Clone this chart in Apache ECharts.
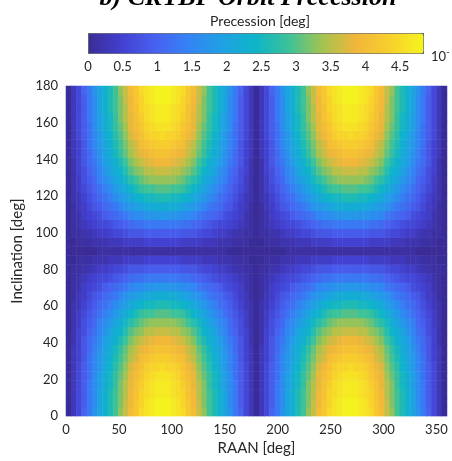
<!DOCTYPE html>
<html>
<head>
<meta charset="utf-8">
<script src="https://cdn.jsdelivr.net/npm/echarts@6/dist/echarts.min.js"></script>
<style>
html,body{margin:0;padding:0;background:#fff;}
#main{width:452px;height:461px;}
</style>
</head>
<body>
<div id="main"></div>
<script>
// RAAN (x) and inclination (y) sample points, deg
var raanDeg = [0,5,10,15,20,25,30,35,40,45,50,55,60,65,70,75,80,85,90,95,100,105,110,115,120,125,130,135,140,145,150,155,160,165,170,175,180,
  185,190,195,200,205,210,215,220,225,230,235,240,245,250,255,260,265,270,275,280,285,290,295,300,305,310,315,320,325,330,335,340,345,350,355,360];
var incDeg = [0,5,10,15,20,25,30,35,40,45,50,55,60,65,70,75,80,85,90,95,100,105,110,115,120,125,130,135,140,145,150,155,160,165,170,175,180];

// precession (x 10^-?), one row per inclination, one column per RAAN
var precession = [
  /*0*/  [0,0.3,0.6,1,1.3,1.7,2,2.3,2.6,2.9,3.3,3.6,4,4.2,4.5,4.6,4.7,4.8,4.8,4.8,4.7,4.6,4.5,4.2,4,3.6,3.3,2.9,2.6,2.3,2,1.7,1.3,1,0.6,0.3,0,0.3,0.6,1,1.3,1.7,2,2.3,2.6,2.9,3.3,3.6,4,4.2,4.5,4.6,4.7,4.8,4.8,4.8,4.7,4.6,4.5,4.2,4,3.6,3.3,2.9,2.6,2.3,2,1.7,1.3,1,0.6,0.3,0],
  /*5*/  [0,0.3,0.6,0.9,1.3,1.6,2,2.3,2.6,2.9,3.2,3.6,3.9,4.2,4.4,4.6,4.7,4.8,4.8,4.8,4.7,4.6,4.4,4.2,3.9,3.6,3.2,2.9,2.6,2.3,2,1.6,1.3,0.9,0.6,0.3,0,0.3,0.6,0.9,1.3,1.6,2,2.3,2.6,2.9,3.2,3.6,3.9,4.2,4.4,4.6,4.7,4.8,4.8,4.8,4.7,4.6,4.4,4.2,3.9,3.6,3.2,2.9,2.6,2.3,2,1.6,1.3,0.9,0.6,0.3,0],
  /*10*/ [0,0.3,0.6,0.9,1.3,1.6,2,2.3,2.6,2.9,3.2,3.5,3.9,4.1,4.4,4.5,4.6,4.7,4.7,4.7,4.6,4.5,4.4,4.1,3.9,3.5,3.2,2.9,2.6,2.3,2,1.6,1.3,0.9,0.6,0.3,0,0.3,0.6,0.9,1.3,1.6,2,2.3,2.6,2.9,3.2,3.5,3.9,4.1,4.4,4.5,4.6,4.7,4.7,4.7,4.6,4.5,4.4,4.1,3.9,3.5,3.2,2.9,2.6,2.3,2,1.6,1.3,0.9,0.6,0.3,0],
  /*15*/ [0,0.3,0.6,0.9,1.3,1.6,1.9,2.2,2.5,2.8,3.2,3.5,3.8,4.1,4.3,4.5,4.6,4.7,4.7,4.7,4.6,4.5,4.3,4.1,3.8,3.5,3.2,2.8,2.5,2.2,1.9,1.6,1.3,0.9,0.6,0.3,0,0.3,0.6,0.9,1.3,1.6,1.9,2.2,2.5,2.8,3.2,3.5,3.8,4.1,4.3,4.5,4.6,4.7,4.7,4.7,4.6,4.5,4.3,4.1,3.8,3.5,3.2,2.8,2.5,2.2,1.9,1.6,1.3,0.9,0.6,0.3,0],
  /*20*/ [0,0.3,0.6,0.9,1.2,1.6,1.9,2.2,2.5,2.8,3.1,3.4,3.8,4,4.2,4.4,4.5,4.6,4.6,4.6,4.5,4.4,4.2,4,3.8,3.4,3.1,2.8,2.5,2.2,1.9,1.6,1.2,0.9,0.6,0.3,0,0.3,0.6,0.9,1.2,1.6,1.9,2.2,2.5,2.8,3.1,3.4,3.8,4,4.2,4.4,4.5,4.6,4.6,4.6,4.5,4.4,4.2,4,3.8,3.4,3.1,2.8,2.5,2.2,1.9,1.6,1.2,0.9,0.6,0.3,0],
  /*25*/ [0,0.3,0.6,0.9,1.2,1.5,1.8,2.1,2.4,2.7,3,3.3,3.7,3.9,4.1,4.3,4.4,4.4,4.5,4.4,4.4,4.3,4.1,3.9,3.7,3.3,3,2.7,2.4,2.1,1.8,1.5,1.2,0.9,0.6,0.3,0,0.3,0.6,0.9,1.2,1.5,1.8,2.1,2.4,2.7,3,3.3,3.7,3.9,4.1,4.3,4.4,4.4,4.5,4.4,4.4,4.3,4.1,3.9,3.7,3.3,3,2.7,2.4,2.1,1.8,1.5,1.2,0.9,0.6,0.3,0],
  /*30*/ [0,0.3,0.5,0.8,1.2,1.5,1.8,2,2.3,2.6,2.9,3.2,3.5,3.7,4,4.1,4.2,4.3,4.3,4.3,4.2,4.1,4,3.7,3.5,3.2,2.9,2.6,2.3,2,1.8,1.5,1.2,0.8,0.5,0.3,0,0.3,0.5,0.8,1.2,1.5,1.8,2,2.3,2.6,2.9,3.2,3.5,3.7,4,4.1,4.2,4.3,4.3,4.3,4.2,4.1,4,3.7,3.5,3.2,2.9,2.6,2.3,2,1.8,1.5,1.2,0.8,0.5,0.3,0],
  /*35*/ [0,0.3,0.5,0.8,1.1,1.4,1.7,2,2.2,2.5,2.8,3.1,3.4,3.6,3.8,3.9,4,4.1,4.1,4.1,4,3.9,3.8,3.6,3.4,3.1,2.8,2.5,2.2,2,1.7,1.4,1.1,0.8,0.5,0.3,0,0.3,0.5,0.8,1.1,1.4,1.7,2,2.2,2.5,2.8,3.1,3.4,3.6,3.8,3.9,4,4.1,4.1,4.1,4,3.9,3.8,3.6,3.4,3.1,2.8,2.5,2.2,2,1.7,1.4,1.1,0.8,0.5,0.3,0],
  /*40*/ [0,0.2,0.5,0.8,1.1,1.3,1.6,1.9,2.1,2.3,2.6,2.9,3.2,3.4,3.6,3.7,3.8,3.9,3.9,3.9,3.8,3.7,3.6,3.4,3.2,2.9,2.6,2.3,2.1,1.9,1.6,1.3,1.1,0.8,0.5,0.2,0,0.2,0.5,0.8,1.1,1.3,1.6,1.9,2.1,2.3,2.6,2.9,3.2,3.4,3.6,3.7,3.8,3.9,3.9,3.9,3.8,3.7,3.6,3.4,3.2,2.9,2.6,2.3,2.1,1.9,1.6,1.3,1.1,0.8,0.5,0.2,0],
  /*45*/ [0,0.2,0.5,0.7,1,1.2,1.5,1.7,2,2.2,2.4,2.7,3,3.2,3.3,3.5,3.5,3.6,3.6,3.6,3.5,3.5,3.3,3.2,3,2.7,2.4,2.2,2,1.7,1.5,1.2,1,0.7,0.5,0.2,0,0.2,0.5,0.7,1,1.2,1.5,1.7,2,2.2,2.4,2.7,3,3.2,3.3,3.5,3.5,3.6,3.6,3.6,3.5,3.5,3.3,3.2,3,2.7,2.4,2.2,2,1.7,1.5,1.2,1,0.7,0.5,0.2,0],
  /*50*/ [0,0.2,0.4,0.7,0.9,1.1,1.4,1.6,1.8,2,2.2,2.5,2.7,2.9,3.1,3.2,3.3,3.3,3.3,3.3,3.3,3.2,3.1,2.9,2.7,2.5,2.2,2,1.8,1.6,1.4,1.1,0.9,0.7,0.4,0.2,0,0.2,0.4,0.7,0.9,1.1,1.4,1.6,1.8,2,2.2,2.5,2.7,2.9,3.1,3.2,3.3,3.3,3.3,3.3,3.3,3.2,3.1,2.9,2.7,2.5,2.2,2,1.8,1.6,1.4,1.1,0.9,0.7,0.4,0.2,0],
  /*55*/ [0,0.2,0.4,0.6,0.8,1,1.2,1.4,1.6,1.8,2,2.2,2.4,2.6,2.8,2.9,2.9,3,3,3,2.9,2.9,2.8,2.6,2.4,2.2,2,1.8,1.6,1.4,1.2,1,0.8,0.6,0.4,0.2,0,0.2,0.4,0.6,0.8,1,1.2,1.4,1.6,1.8,2,2.2,2.4,2.6,2.8,2.9,2.9,3,3,3,2.9,2.9,2.8,2.6,2.4,2.2,2,1.8,1.6,1.4,1.2,1,0.8,0.6,0.4,0.2,0],
  /*60*/ [0,0.2,0.3,0.5,0.7,0.9,1.1,1.2,1.4,1.6,1.8,1.9,2.1,2.3,2.4,2.5,2.5,2.6,2.6,2.6,2.5,2.5,2.4,2.3,2.1,1.9,1.8,1.6,1.4,1.2,1.1,0.9,0.7,0.5,0.3,0.2,0,0.2,0.3,0.5,0.7,0.9,1.1,1.2,1.4,1.6,1.8,1.9,2.1,2.3,2.4,2.5,2.5,2.6,2.6,2.6,2.5,2.5,2.4,2.3,2.1,1.9,1.8,1.6,1.4,1.2,1.1,0.9,0.7,0.5,0.3,0.2,0],
  /*65*/ [0,0.1,0.3,0.4,0.6,0.8,0.9,1.1,1.2,1.3,1.5,1.7,1.8,1.9,2,2.1,2.2,2.2,2.2,2.2,2.2,2.1,2,1.9,1.8,1.7,1.5,1.3,1.2,1.1,0.9,0.8,0.6,0.4,0.3,0.1,0,0.1,0.3,0.4,0.6,0.8,0.9,1.1,1.2,1.3,1.5,1.7,1.8,1.9,2,2.1,2.2,2.2,2.2,2.2,2.2,2.1,2,1.9,1.8,1.7,1.5,1.3,1.2,1.1,0.9,0.8,0.6,0.4,0.3,0.1,0],
  /*70*/ [0,0.1,0.2,0.4,0.5,0.6,0.7,0.9,1,1.1,1.2,1.3,1.5,1.6,1.6,1.7,1.7,1.8,1.8,1.8,1.7,1.7,1.6,1.6,1.5,1.3,1.2,1.1,1,0.9,0.7,0.6,0.5,0.4,0.2,0.1,0,0.1,0.2,0.4,0.5,0.6,0.7,0.9,1,1.1,1.2,1.3,1.5,1.6,1.6,1.7,1.7,1.8,1.8,1.8,1.7,1.7,1.6,1.6,1.5,1.3,1.2,1.1,1,0.9,0.7,0.6,0.5,0.4,0.2,0.1,0],
  /*75*/ [0,0.1,0.2,0.3,0.4,0.5,0.6,0.6,0.7,0.8,0.9,1,1.1,1.2,1.2,1.3,1.3,1.3,1.3,1.3,1.3,1.3,1.2,1.2,1.1,1,0.9,0.8,0.7,0.6,0.6,0.5,0.4,0.3,0.2,0.1,0,0.1,0.2,0.3,0.4,0.5,0.6,0.6,0.7,0.8,0.9,1,1.1,1.2,1.2,1.3,1.3,1.3,1.3,1.3,1.3,1.3,1.2,1.2,1.1,1,0.9,0.8,0.7,0.6,0.6,0.5,0.4,0.3,0.2,0.1,0],
  /*80*/ [0,0.1,0.1,0.2,0.2,0.3,0.4,0.4,0.5,0.6,0.6,0.7,0.8,0.8,0.8,0.9,0.9,0.9,0.9,0.9,0.9,0.9,0.8,0.8,0.8,0.7,0.6,0.6,0.5,0.4,0.4,0.3,0.2,0.2,0.1,0.1,0,0.1,0.1,0.2,0.2,0.3,0.4,0.4,0.5,0.6,0.6,0.7,0.8,0.8,0.8,0.9,0.9,0.9,0.9,0.9,0.9,0.9,0.8,0.8,0.8,0.7,0.6,0.6,0.5,0.4,0.4,0.3,0.2,0.2,0.1,0.1,0],
  /*85*/ [0,0,0.1,0.1,0.1,0.2,0.2,0.2,0.3,0.3,0.3,0.4,0.4,0.4,0.4,0.5,0.5,0.5,0.5,0.5,0.5,0.5,0.4,0.4,0.4,0.4,0.3,0.3,0.3,0.2,0.2,0.2,0.1,0.1,0.1,0,0,0,0.1,0.1,0.1,0.2,0.2,0.2,0.3,0.3,0.3,0.4,0.4,0.4,0.4,0.5,0.5,0.5,0.5,0.5,0.5,0.5,0.4,0.4,0.4,0.4,0.3,0.3,0.3,0.2,0.2,0.2,0.1,0.1,0.1,0,0],
  /*90*/ [0,0,0,0,0,0,0.1,0.1,0.1,0.1,0.1,0.1,0.1,0.1,0.1,0.1,0.1,0.1,0.1,0.1,0.1,0.1,0.1,0.1,0.1,0.1,0.1,0.1,0.1,0.1,0.1,0,0,0,0,0,0,0,0,0,0,0,0.1,0.1,0.1,0.1,0.1,0.1,0.1,0.1,0.1,0.1,0.1,0.1,0.1,0.1,0.1,0.1,0.1,0.1,0.1,0.1,0.1,0.1,0.1,0.1,0.1,0,0,0,0,0,0],
  /*95*/ [0,0,0.1,0.1,0.1,0.2,0.2,0.2,0.3,0.3,0.3,0.4,0.4,0.4,0.4,0.5,0.5,0.5,0.5,0.5,0.5,0.5,0.4,0.4,0.4,0.4,0.3,0.3,0.3,0.2,0.2,0.2,0.1,0.1,0.1,0,0,0,0.1,0.1,0.1,0.2,0.2,0.2,0.3,0.3,0.3,0.4,0.4,0.4,0.4,0.5,0.5,0.5,0.5,0.5,0.5,0.5,0.4,0.4,0.4,0.4,0.3,0.3,0.3,0.2,0.2,0.2,0.1,0.1,0.1,0,0],
  /*100*/[0,0.1,0.1,0.2,0.2,0.3,0.4,0.4,0.5,0.6,0.6,0.7,0.8,0.8,0.8,0.9,0.9,0.9,0.9,0.9,0.9,0.9,0.8,0.8,0.8,0.7,0.6,0.6,0.5,0.4,0.4,0.3,0.2,0.2,0.1,0.1,0,0.1,0.1,0.2,0.2,0.3,0.4,0.4,0.5,0.6,0.6,0.7,0.8,0.8,0.8,0.9,0.9,0.9,0.9,0.9,0.9,0.9,0.8,0.8,0.8,0.7,0.6,0.6,0.5,0.4,0.4,0.3,0.2,0.2,0.1,0.1,0],
  /*105*/[0,0.1,0.2,0.3,0.4,0.5,0.6,0.6,0.7,0.8,0.9,1,1.1,1.2,1.2,1.3,1.3,1.3,1.3,1.3,1.3,1.3,1.2,1.2,1.1,1,0.9,0.8,0.7,0.6,0.6,0.5,0.4,0.3,0.2,0.1,0,0.1,0.2,0.3,0.4,0.5,0.6,0.6,0.7,0.8,0.9,1,1.1,1.2,1.2,1.3,1.3,1.3,1.3,1.3,1.3,1.3,1.2,1.2,1.1,1,0.9,0.8,0.7,0.6,0.6,0.5,0.4,0.3,0.2,0.1,0],
  /*110*/[0,0.1,0.2,0.4,0.5,0.6,0.7,0.9,1,1.1,1.2,1.3,1.5,1.6,1.6,1.7,1.7,1.8,1.8,1.8,1.7,1.7,1.6,1.6,1.5,1.3,1.2,1.1,1,0.9,0.7,0.6,0.5,0.4,0.2,0.1,0,0.1,0.2,0.4,0.5,0.6,0.7,0.9,1,1.1,1.2,1.3,1.5,1.6,1.6,1.7,1.7,1.8,1.8,1.8,1.7,1.7,1.6,1.6,1.5,1.3,1.2,1.1,1,0.9,0.7,0.6,0.5,0.4,0.2,0.1,0],
  /*115*/[0,0.1,0.3,0.4,0.6,0.8,0.9,1.1,1.2,1.3,1.5,1.7,1.8,1.9,2,2.1,2.2,2.2,2.2,2.2,2.2,2.1,2,1.9,1.8,1.7,1.5,1.3,1.2,1.1,0.9,0.8,0.6,0.4,0.3,0.1,0,0.1,0.3,0.4,0.6,0.8,0.9,1.1,1.2,1.3,1.5,1.7,1.8,1.9,2,2.1,2.2,2.2,2.2,2.2,2.2,2.1,2,1.9,1.8,1.7,1.5,1.3,1.2,1.1,0.9,0.8,0.6,0.4,0.3,0.1,0],
  /*120*/[0,0.2,0.3,0.5,0.7,0.9,1.1,1.2,1.4,1.6,1.8,1.9,2.1,2.3,2.4,2.5,2.5,2.6,2.6,2.6,2.5,2.5,2.4,2.3,2.1,1.9,1.8,1.6,1.4,1.2,1.1,0.9,0.7,0.5,0.3,0.2,0,0.2,0.3,0.5,0.7,0.9,1.1,1.2,1.4,1.6,1.8,1.9,2.1,2.3,2.4,2.5,2.5,2.6,2.6,2.6,2.5,2.5,2.4,2.3,2.1,1.9,1.8,1.6,1.4,1.2,1.1,0.9,0.7,0.5,0.3,0.2,0],
  /*125*/[0,0.2,0.4,0.6,0.8,1,1.2,1.4,1.6,1.8,2,2.2,2.4,2.6,2.8,2.9,2.9,3,3,3,2.9,2.9,2.8,2.6,2.4,2.2,2,1.8,1.6,1.4,1.2,1,0.8,0.6,0.4,0.2,0,0.2,0.4,0.6,0.8,1,1.2,1.4,1.6,1.8,2,2.2,2.4,2.6,2.8,2.9,2.9,3,3,3,2.9,2.9,2.8,2.6,2.4,2.2,2,1.8,1.6,1.4,1.2,1,0.8,0.6,0.4,0.2,0],
  /*130*/[0,0.2,0.4,0.7,0.9,1.1,1.4,1.6,1.8,2,2.2,2.5,2.7,2.9,3.1,3.2,3.3,3.3,3.3,3.3,3.3,3.2,3.1,2.9,2.7,2.5,2.2,2,1.8,1.6,1.4,1.1,0.9,0.7,0.4,0.2,0,0.2,0.4,0.7,0.9,1.1,1.4,1.6,1.8,2,2.2,2.5,2.7,2.9,3.1,3.2,3.3,3.3,3.3,3.3,3.3,3.2,3.1,2.9,2.7,2.5,2.2,2,1.8,1.6,1.4,1.1,0.9,0.7,0.4,0.2,0],
  /*135*/[0,0.2,0.5,0.7,1,1.2,1.5,1.7,2,2.2,2.4,2.7,3,3.2,3.3,3.5,3.5,3.6,3.6,3.6,3.5,3.5,3.3,3.2,3,2.7,2.4,2.2,2,1.7,1.5,1.2,1,0.7,0.5,0.2,0,0.2,0.5,0.7,1,1.2,1.5,1.7,2,2.2,2.4,2.7,3,3.2,3.3,3.5,3.5,3.6,3.6,3.6,3.5,3.5,3.3,3.2,3,2.7,2.4,2.2,2,1.7,1.5,1.2,1,0.7,0.5,0.2,0],
  /*140*/[0,0.2,0.5,0.8,1.1,1.3,1.6,1.9,2.1,2.3,2.6,2.9,3.2,3.4,3.6,3.7,3.8,3.9,3.9,3.9,3.8,3.7,3.6,3.4,3.2,2.9,2.6,2.3,2.1,1.9,1.6,1.3,1.1,0.8,0.5,0.2,0,0.2,0.5,0.8,1.1,1.3,1.6,1.9,2.1,2.3,2.6,2.9,3.2,3.4,3.6,3.7,3.8,3.9,3.9,3.9,3.8,3.7,3.6,3.4,3.2,2.9,2.6,2.3,2.1,1.9,1.6,1.3,1.1,0.8,0.5,0.2,0],
  /*145*/[0,0.3,0.5,0.8,1.1,1.4,1.7,2,2.2,2.5,2.8,3.1,3.4,3.6,3.8,3.9,4,4.1,4.1,4.1,4,3.9,3.8,3.6,3.4,3.1,2.8,2.5,2.2,2,1.7,1.4,1.1,0.8,0.5,0.3,0,0.3,0.5,0.8,1.1,1.4,1.7,2,2.2,2.5,2.8,3.1,3.4,3.6,3.8,3.9,4,4.1,4.1,4.1,4,3.9,3.8,3.6,3.4,3.1,2.8,2.5,2.2,2,1.7,1.4,1.1,0.8,0.5,0.3,0],
  /*150*/[0,0.3,0.5,0.8,1.2,1.5,1.8,2,2.3,2.6,2.9,3.2,3.5,3.7,4,4.1,4.2,4.3,4.3,4.3,4.2,4.1,4,3.7,3.5,3.2,2.9,2.6,2.3,2,1.8,1.5,1.2,0.8,0.5,0.3,0,0.3,0.5,0.8,1.2,1.5,1.8,2,2.3,2.6,2.9,3.2,3.5,3.7,4,4.1,4.2,4.3,4.3,4.3,4.2,4.1,4,3.7,3.5,3.2,2.9,2.6,2.3,2,1.8,1.5,1.2,0.8,0.5,0.3,0],
  /*155*/[0,0.3,0.6,0.9,1.2,1.5,1.8,2.1,2.4,2.7,3,3.3,3.7,3.9,4.1,4.3,4.4,4.4,4.5,4.4,4.4,4.3,4.1,3.9,3.7,3.3,3,2.7,2.4,2.1,1.8,1.5,1.2,0.9,0.6,0.3,0,0.3,0.6,0.9,1.2,1.5,1.8,2.1,2.4,2.7,3,3.3,3.7,3.9,4.1,4.3,4.4,4.4,4.5,4.4,4.4,4.3,4.1,3.9,3.7,3.3,3,2.7,2.4,2.1,1.8,1.5,1.2,0.9,0.6,0.3,0],
  /*160*/[0,0.3,0.6,0.9,1.2,1.6,1.9,2.2,2.5,2.8,3.1,3.4,3.8,4,4.2,4.4,4.5,4.6,4.6,4.6,4.5,4.4,4.2,4,3.8,3.4,3.1,2.8,2.5,2.2,1.9,1.6,1.2,0.9,0.6,0.3,0,0.3,0.6,0.9,1.2,1.6,1.9,2.2,2.5,2.8,3.1,3.4,3.8,4,4.2,4.4,4.5,4.6,4.6,4.6,4.5,4.4,4.2,4,3.8,3.4,3.1,2.8,2.5,2.2,1.9,1.6,1.2,0.9,0.6,0.3,0],
  /*165*/[0,0.3,0.6,0.9,1.3,1.6,1.9,2.2,2.5,2.8,3.2,3.5,3.8,4.1,4.3,4.5,4.6,4.7,4.7,4.7,4.6,4.5,4.3,4.1,3.8,3.5,3.2,2.8,2.5,2.2,1.9,1.6,1.3,0.9,0.6,0.3,0,0.3,0.6,0.9,1.3,1.6,1.9,2.2,2.5,2.8,3.2,3.5,3.8,4.1,4.3,4.5,4.6,4.7,4.7,4.7,4.6,4.5,4.3,4.1,3.8,3.5,3.2,2.8,2.5,2.2,1.9,1.6,1.3,0.9,0.6,0.3,0],
  /*170*/[0,0.3,0.6,0.9,1.3,1.6,2,2.3,2.6,2.9,3.2,3.5,3.9,4.1,4.4,4.5,4.6,4.7,4.7,4.7,4.6,4.5,4.4,4.1,3.9,3.5,3.2,2.9,2.6,2.3,2,1.6,1.3,0.9,0.6,0.3,0,0.3,0.6,0.9,1.3,1.6,2,2.3,2.6,2.9,3.2,3.5,3.9,4.1,4.4,4.5,4.6,4.7,4.7,4.7,4.6,4.5,4.4,4.1,3.9,3.5,3.2,2.9,2.6,2.3,2,1.6,1.3,0.9,0.6,0.3,0],
  /*175*/[0,0.3,0.6,0.9,1.3,1.6,2,2.3,2.6,2.9,3.2,3.6,3.9,4.2,4.4,4.6,4.7,4.8,4.8,4.8,4.7,4.6,4.4,4.2,3.9,3.6,3.2,2.9,2.6,2.3,2,1.6,1.3,0.9,0.6,0.3,0,0.3,0.6,0.9,1.3,1.6,2,2.3,2.6,2.9,3.2,3.6,3.9,4.2,4.4,4.6,4.7,4.8,4.8,4.8,4.7,4.6,4.4,4.2,3.9,3.6,3.2,2.9,2.6,2.3,2,1.6,1.3,0.9,0.6,0.3,0],
  /*180*/[0,0.3,0.6,1,1.3,1.7,2,2.3,2.6,2.9,3.3,3.6,4,4.2,4.5,4.6,4.7,4.8,4.8,4.8,4.7,4.6,4.5,4.2,4,3.6,3.3,2.9,2.6,2.3,2,1.7,1.3,1,0.6,0.3,0,0.3,0.6,1,1.3,1.7,2,2.3,2.6,2.9,3.3,3.6,4,4.2,4.5,4.6,4.7,4.8,4.8,4.8,4.7,4.6,4.5,4.2,4,3.6,3.3,2.9,2.6,2.3,2,1.7,1.3,1,0.6,0.3,0]
];

// colour bar
var cbMin = 0;
var cbMax = 4.83;
var cbColors = ['#3a2c96','#4340d0','#4861f0','#3483f5','#1fa1e3','#0db5c8','#3ec297','#a5c34f','#f2b63a','#f8cf2c','#f5f51e'];

var heatData = [];
for (var i = 0; i < incDeg.length; i++) {
  for (var j = 0; j < raanDeg.length; j++) {
    heatData.push([j, i, precession[i][j]]);
  }
}

var txt = '#262626';
var chart = echarts.init(document.getElementById('main'));
chart.setOption({
  animation: false,
  textStyle: { fontFamily: 'Lato' },
  grid: [
    { left: 66, right: 5, top: 86, bottom: 41 },
    { left: 88, top: 33, width: 335, height: 20 }
  ],
  xAxis: [
    { type: 'category', gridIndex: 0, data: raanDeg, show: false, position: 'top' },
    {
      type: 'value', gridIndex: 0, position: 'bottom', min: 0, max: 360, interval: 50,
      axisLine: { show: false }, axisTick: { show: false }, splitLine: { show: false },
      axisLabel: { color: txt, fontSize: 13, margin: 7, showMaxLabel: false },
      name: 'RAAN [deg]', nameLocation: 'middle', nameGap: 22,
      nameTextStyle: { color: txt, fontSize: 15 }
    },
    {
      type: 'value', gridIndex: 1, position: 'bottom', min: cbMin, max: cbMax, interval: 0.5,
      axisLine: { show: false },
      axisTick: { show: true, inside: true, length: 3, lineStyle: { color: '#333' } },
      splitLine: { show: false },
      axisLabel: { color: txt, fontSize: 13, margin: 7, showMaxLabel: false }
    }
  ],
  yAxis: [
    { type: 'category', gridIndex: 0, data: incDeg, show: false, position: 'right' },
    {
      type: 'value', gridIndex: 0, position: 'left', min: 0, max: 180, interval: 20,
      axisLine: { show: false }, axisTick: { show: false }, splitLine: { show: false },
      axisLabel: { color: txt, fontSize: 13, margin: 8 },
      name: 'Inclination [deg]', nameLocation: 'middle', nameGap: 31,
      nameTextStyle: { color: txt, fontSize: 15 }
    },
    { type: 'value', gridIndex: 1, min: 0, max: 1, show: false }
  ],
  visualMap: {
    type: 'continuous', seriesIndex: 0, min: cbMin, max: cbMax,
    orient: 'horizontal', left: 88, top: 33, itemWidth: 20, itemHeight: 335,
    padding: 0, calculable: false, text: null, showLabel: false,
    borderColor: '#555', borderWidth: 1,
    inRange: { color: cbColors }
  },
  graphic: [
    { type: 'text', x: 248, y: 11, style: { text: 'b) CRTBP Orbit Precession', font: 'italic bold 26px "Liberation Serif"', fill: '#000', align: 'center', verticalAlign: 'bottom' } },
    { type: 'text', x: 260, y: 21, style: { text: 'Precession [deg]', font: '14px Lato', fill: txt, align: 'center', verticalAlign: 'middle' } },
    { type: 'text', x: 431, y: 57, style: { text: '10', font: '13px Lato', fill: txt, align: 'left', verticalAlign: 'middle' } },
    { type: 'text', x: 446, y: 52, style: { text: '-', font: '10px Lato', fill: txt, align: 'left', verticalAlign: 'middle' } }
  ],
  series: [{
    type: 'heatmap', xAxisIndex: 0, yAxisIndex: 0,
    data: heatData,
    itemStyle: { borderWidth: 0 },
    emphasis: { disabled: true }
  }]
});
</script>
</body>
</html>
